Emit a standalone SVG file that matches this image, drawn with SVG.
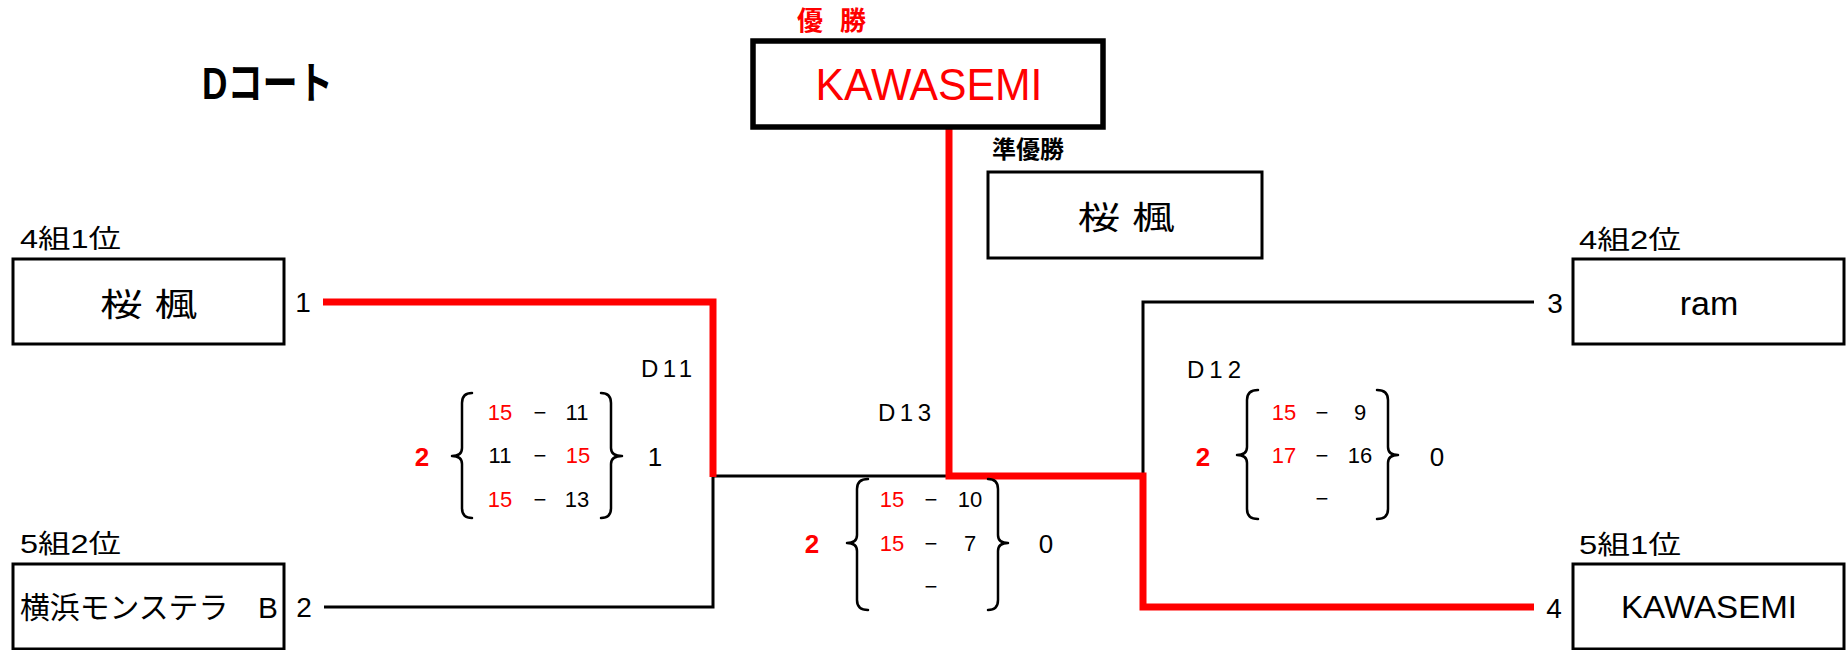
<svg xmlns="http://www.w3.org/2000/svg" width="1846" height="650" viewBox="0 0 1846 650">
<style>
text{font-family:"Liberation Sans","Noto Sans CJK JP",sans-serif;fill:#000}
.red{fill:#ff0000}
.b{font-weight:bold}
.box{fill:#fff;stroke:#000;stroke-width:3}
.lbl{font-size:26px}
.team{font-size:32px}
.seed{font-size:28px}
.sc{font-size:22px;text-anchor:middle}
.m{font-size:24px}
.win{font-size:26px;font-weight:bold;fill:#ff0000;text-anchor:middle}
.lose{font-size:26px;text-anchor:middle}
.brace{fill:none;stroke:#000;stroke-width:2.5;stroke-linecap:round;stroke-linejoin:round}
.wl{fill:none;stroke:#ff0000;stroke-width:7;stroke-linejoin:miter}
.ll{fill:none;stroke:#000;stroke-width:3}
</style>
<rect width="1846" height="650" fill="#fff"/>
<text x="202" y="99" class="b" font-size="44" textLength="131" lengthAdjust="spacingAndGlyphs">Dコート</text>

<g id="connectors">
<path class="ll" d="M324 607 H713 V476 H949"/>
<path class="ll" d="M1143 476 V302 H1534"/>
<path class="wl" d="M323 302 H713 V477"/>
<path class="wl" d="M949 127 V476 H1143 V607 H1534"/>
</g>

<g id="champion">
<text x="797" y="30" class="red b" font-size="26" textLength="69" lengthAdjust="spacing">優 勝</text>
<rect x="753" y="41" width="350" height="86" fill="#fff" stroke="#000" stroke-width="5.5"/>
<text x="929" y="100" class="red" font-size="44" text-anchor="middle" textLength="227" lengthAdjust="spacingAndGlyphs">KAWASEMI</text>
</g>

<g id="runnerup">
<text x="992" y="158" class="b" font-size="24" textLength="72" lengthAdjust="spacingAndGlyphs">準優勝</text>
<rect x="988" y="172" width="274" height="86" class="box"/>
<text x="1126" y="229" class="team" text-anchor="middle" textLength="97" lengthAdjust="spacingAndGlyphs">桜 楓</text>
</g>

<g id="team1">
<text x="20" y="248" class="lbl" textLength="101" lengthAdjust="spacingAndGlyphs">4組1位</text>
<rect x="13" y="259" width="271" height="85" class="box"/>
<text x="148.5" y="316" class="team" text-anchor="middle" textLength="97" lengthAdjust="spacingAndGlyphs">桜 楓</text>
<text x="303" y="312" class="seed" text-anchor="middle">1</text>
</g>

<g id="team2">
<text x="20" y="553" class="lbl" textLength="101" lengthAdjust="spacingAndGlyphs">5組2位</text>
<rect x="13" y="564" width="271" height="85" class="box"/>
<text x="20" y="618" font-size="30" textLength="258" lengthAdjust="spacingAndGlyphs">横浜モンステラ　B</text>
<text x="304" y="617" class="seed" text-anchor="middle">2</text>
</g>

<g id="team3">
<text x="1579" y="249" class="lbl" textLength="102" lengthAdjust="spacingAndGlyphs">4組2位</text>
<rect x="1573" y="259" width="271" height="85" class="box"/>
<text x="1709" y="315" font-size="34" text-anchor="middle">ram</text>
<text x="1555" y="313" class="seed" text-anchor="middle">3</text>
</g>

<g id="team4">
<text x="1579" y="554" class="lbl" textLength="102" lengthAdjust="spacingAndGlyphs">5組1位</text>
<rect x="1573" y="564" width="271" height="85" class="box"/>
<text x="1709" y="618" font-size="31" text-anchor="middle" textLength="176" lengthAdjust="spacingAndGlyphs">KAWASEMI</text>
<text x="1554" y="618" class="seed" text-anchor="middle">4</text>
</g>

<g id="D11">
<text x="641" y="377" class="m" textLength="51" lengthAdjust="spacing">D11</text>
<text x="422" y="466" class="win">2</text>
<path class="brace" d="M472 393 Q462 393 462 403 L462 448 Q462 456 452 456 Q462 456 462 464 L462 508 Q462 518 472 518"/>
<text x="500" y="420" class="sc red">15</text><text x="540" y="420" class="sc">−</text><text x="577" y="420" class="sc">11</text>
<text x="500" y="463" class="sc">11</text><text x="540" y="463" class="sc">−</text><text x="578" y="463" class="sc red">15</text>
<text x="500" y="507" class="sc red">15</text><text x="540" y="507" class="sc">−</text><text x="577" y="507" class="sc">13</text>
<path class="brace" d="M601 393 Q611 393 611 403 L611 448 Q611 456 622 456 Q611 456 611 464 L611 508 Q611 518 601 518"/>
<text x="655" y="466" class="lose">1</text>
</g>

<g id="D12">
<text x="1187" y="378" class="m" textLength="54" lengthAdjust="spacing">D12</text>
<text x="1203" y="466" class="win">2</text>
<path class="brace" d="M1258 390 Q1247 390 1247 400 L1247 447 Q1247 455 1237 455 Q1247 455 1247 463 L1247 509 Q1247 519 1258 519"/>
<text x="1284" y="420" class="sc red">15</text><text x="1322" y="420" class="sc">−</text><text x="1360" y="420" class="sc">9</text>
<text x="1284" y="463" class="sc red">17</text><text x="1322" y="463" class="sc">−</text><text x="1360" y="463" class="sc">16</text>
<text x="1322" y="506" class="sc">−</text>
<path class="brace" d="M1377 390 Q1388 390 1388 400 L1388 447 Q1388 455 1398 455 Q1388 455 1388 463 L1388 509 Q1388 519 1377 519"/>
<text x="1437" y="466" class="lose">0</text>
</g>

<g id="D13">
<text x="878" y="421" class="m" textLength="53" lengthAdjust="spacing">D13</text>
<text x="812" y="553" class="win">2</text>
<path class="brace" d="M868 479 Q857 479 857 489 L857 535 Q857 543 847 543 Q857 543 857 551 L857 600 Q857 610 868 610"/>
<text x="892" y="507" class="sc red">15</text><text x="931" y="507" class="sc">−</text><text x="970" y="507" class="sc">10</text>
<text x="892" y="551" class="sc red">15</text><text x="931" y="551" class="sc">−</text><text x="970" y="551" class="sc">7</text>
<text x="931" y="594" class="sc">−</text>
<path class="brace" d="M988 479 Q998 479 998 489 L998 535 Q998 543 1008 543 Q998 543 998 551 L998 600 Q998 610 988 610"/>
<text x="1046" y="553" class="lose">0</text>
</g>
</svg>
